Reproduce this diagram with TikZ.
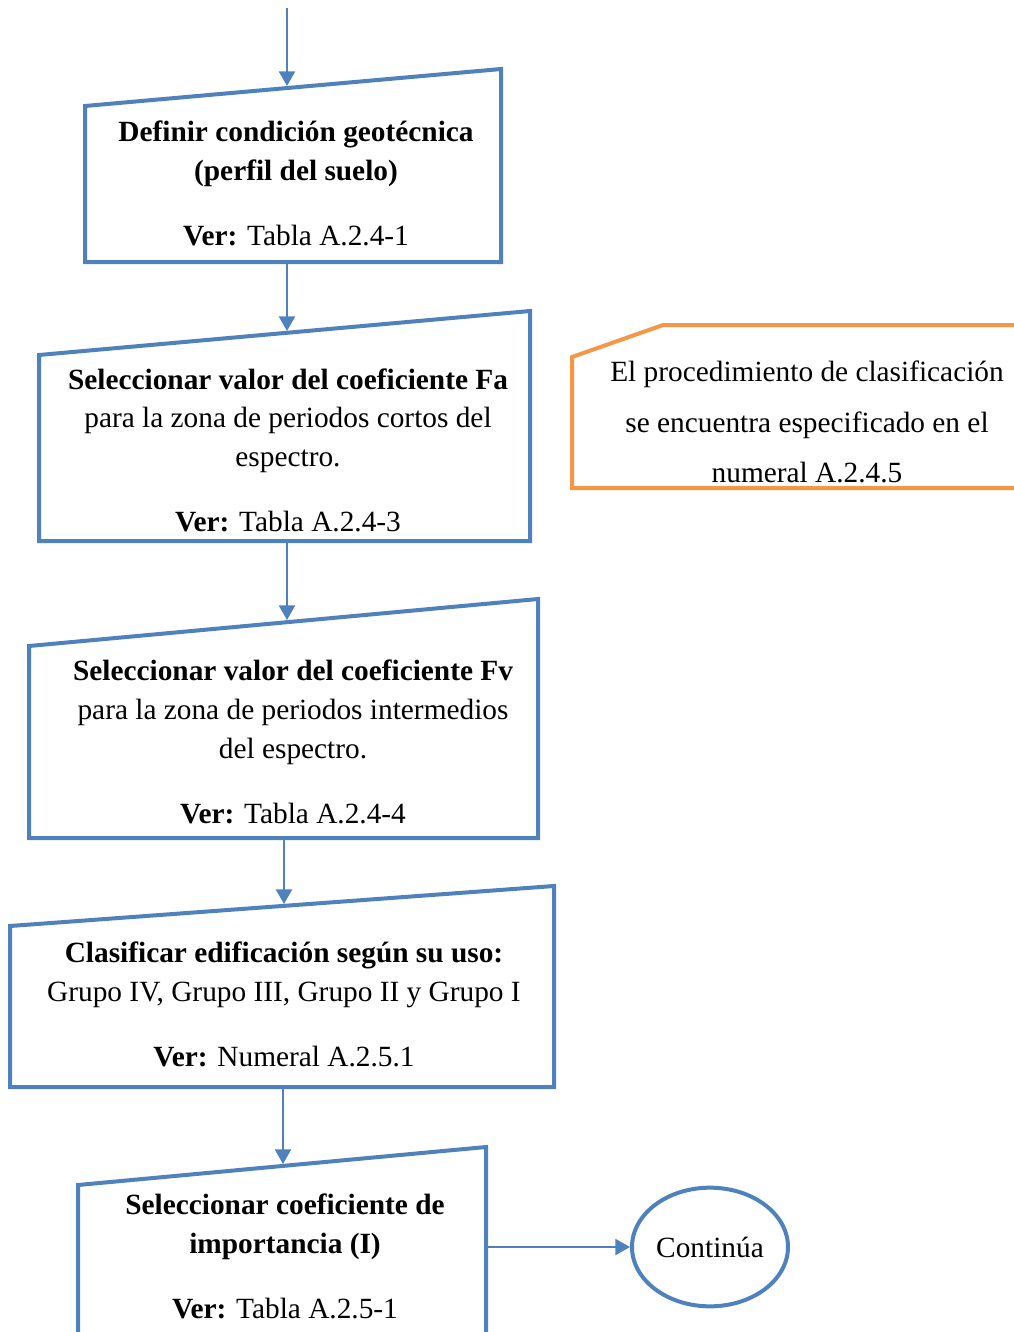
\documentclass[tikz,border=0pt]{standalone}
\usepackage{fontspec}
\setmainfont{Liberation Serif}
\usetikzlibrary{arrows.meta,shapes.geometric}
\definecolor{flowblue}{RGB}{79,129,189}
\definecolor{noteorange}{RGB}{247,150,70}

\begin{document}
\begin{tikzpicture}[x=0.75pt,y=-0.75pt,
  boxline/.style={draw=flowblue,line width=3pt,line join=miter},
  noteline/.style={draw=noteorange,line width=3pt,line join=miter},
  flow/.style={draw=flowblue,line width=1.7pt,-{Triangle[width=12pt,length=11pt]}},
  txt/.style={anchor=base,inner sep=0pt,font=\fontsize{22}{26}\selectfont},
  endnode/.style={draw=flowblue,line width=3pt,ellipse,inner sep=0pt,
    minimum width=117pt,minimum height=89pt,font=\fontsize{22}{26}\selectfont},
]
\useasboundingbox (0,0) rectangle (1014,1332);
\clip (0,0) rectangle (1014,1332);

% process boxes (slanted top edge)
\draw[boxline] (85,262) -- (85,106) -- (501,69) -- (501,262) -- cycle;
\draw[boxline] (39,541) -- (39,355) -- (530,311) -- (530,541) -- cycle;
\draw[boxline] (29,838) -- (29,646) -- (538,599) -- (538,838) -- cycle;
\draw[boxline] (10,1087) -- (10,926) -- (554,886) -- (554,1087) -- cycle;
\draw[boxline] (78,1345) -- (78,1185) -- (486,1147) -- (486,1345);

% note with a cut corner
\draw[noteline] (1030,325) -- (663,325) -- (572,357) -- (572,488) -- (1030,488);

% connector end points
\coordinate (start) at (287,8);
\coordinate (b1top) at (287,86);
\coordinate (b1bot) at (287,262);
\coordinate (b2top) at (287,331);
\coordinate (b2bot) at (287,541);
\coordinate (b3top) at (287,620);
\coordinate (b3bot) at (284,838);
\coordinate (b4top) at (284,904);
\coordinate (b4bot) at (283,1087);
\coordinate (b5top) at (283,1164);
\coordinate (b5right) at (486,1247);

% box 1
\node[txt] (t1a) at (296,141) {\textbf{Definir condición geotécnica}};
\node[txt] (t1b) at (296,180) {\textbf{(perfil del suelo)}};
\node[txt] (t1c) at (296,245) {\textbf{Ver:} Tabla A.2.4-1};

% box 2
\node[txt] (t2a) at (288,389) {\textbf{Seleccionar valor del coeficiente Fa}};
\node[txt] (t2b) at (288,427) {para la zona de periodos cortos del};
\node[txt] (t2c) at (288,466) {espectro.};
\node[txt] (t2d) at (288,531) {\textbf{Ver:} Tabla A.2.4-3};

% box 3
\node[txt] (t3a) at (293,680) {\textbf{Seleccionar valor del coeficiente Fv}};
\node[txt] (t3b) at (293,719) {para la zona de periodos intermedios};
\node[txt] (t3c) at (293,758) {del espectro.};
\node[txt] (t3d) at (293,823) {\textbf{Ver:} Tabla A.2.4-4};

% box 4
\node[txt] (t4a) at (284,962) {\textbf{Clasificar edificación según su uso:}};
\node[txt] (t4b) at (284,1001) {Grupo IV, Grupo III, Grupo II y Grupo I};
\node[txt] (t4c) at (284,1066) {\textbf{Ver:} Numeral A.2.5.1};

% box 5
\node[txt] (t5a) at (285,1214) {\textbf{Seleccionar coeficiente de}};
\node[txt] (t5b) at (285,1253) {\textbf{importancia (I)}};
\node[txt] (t5c) at (285,1318) {\textbf{Ver:} Tabla A.2.5-1};

% note text
\node[txt] (n1) at (807,381) {El procedimiento de clasificación};
\node[txt] (n2) at (807,432) {se encuentra especificado en el};
\node[txt] (n3) at (807,482) {numeral A.2.4.5};

% terminator
\node[endnode] (cont) at (710,1247) {Continúa};

% connectors
\draw[flow] (start) -- (b1top);
\draw[flow] (b1bot) -- (b2top);
\draw[flow] (b2bot) -- (b3top);
\draw[flow] (b3bot) -- (b4top);
\draw[flow] (b4bot) -- (b5top);
\draw[flow] (b5right) -- (cont.west);
\end{tikzpicture}
\end{document}
